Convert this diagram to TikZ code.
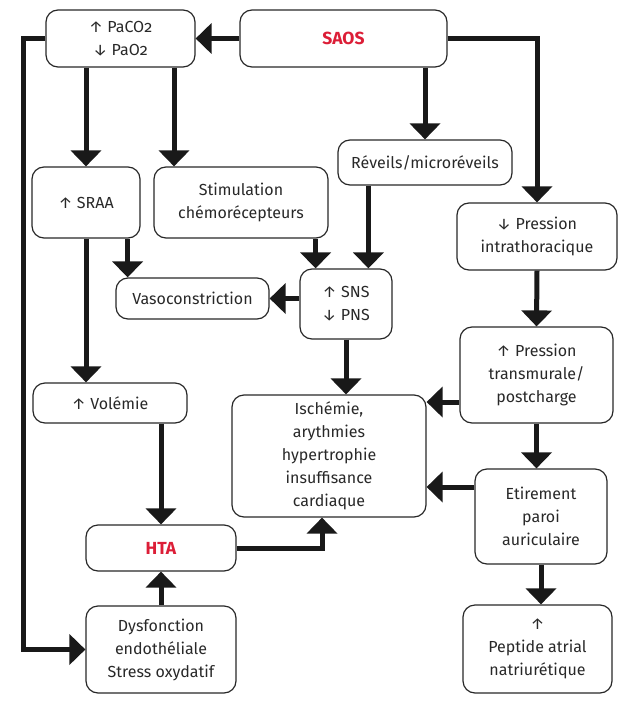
\documentclass[tikz,border=0pt]{standalone}
\usepackage{fontspec}
\setmainfont{Fira Sans}
\usetikzlibrary{arrows.meta, calc}
\definecolor{boxline}{RGB}{40,40,40}
\definecolor{txtclr}{RGB}{40,40,40}
\definecolor{accred}{RGB}{220,30,55}
\newcommand{\lowtwo}{{\addfontfeature{Numbers=OldStyle}2}}
\tikzset{
  % boxes
  box/.style    = {draw=boxline, line width=1.2pt, rounded corners=12pt, align=center,
                   inner sep=0pt, text=txtclr, font=\fontsize{16}{23}\selectfont},
  keybox/.style = {box, text=accred, font=\fontsize{17.5}{23}\selectfont\bfseries},
  % arrows
  flow/.style   = {line width=5pt, draw=black!90, -{Triangle[width=30pt,length=16pt]}},
}
\begin{document}
\begin{tikzpicture}[x=1pt, y=-1pt]
  \useasboundingbox (0,0) rectangle (622,704);
  % top row
  \node[box, minimum width=149pt, minimum height=57pt] (paco) at (120.5,38.5) {↑ PaCO\lowtwo\\↓ PaO\lowtwo};
  \node[keybox, minimum width=207pt, minimum height=57pt] (saos) at (343.5,38.5) {SAOS};
  % second row
  \node[box, minimum width=174pt, minimum height=45pt] (rev) at (425,162.5) {Réveils/microréveils};
  \node[box, minimum width=108pt, minimum height=71pt] (sraa) at (86,202.5) {↑ SRAA};
  \node[box, minimum width=174pt, minimum height=71pt] (stim) at (241,202.5) {Stimulation\\chémorécepteurs};
  \node[box, minimum width=160pt, minimum height=67pt] (pit) at (537,236.5) {↓ Pression\\intrathoracique};
  % third row
  \node[box, minimum width=153pt, minimum height=41pt] (vaso) at (192.5,298.5) {Vasoconstriction};
  \node[box, minimum width=92pt, minimum height=70pt] (sns) at (346,304) {↑ SNS\\↓ PNS};
  \node[box, minimum width=153pt, minimum height=96pt] (ptm) at (536.5,375) {↑ Pression\\transmurale/\\postcharge};
  \node[box, minimum width=154pt, minimum height=40pt] (vol) at (110,403) {↑ Volémie};
  \node[box, minimum width=194pt, minimum height=122pt] (isch) at (329,456) {Ischémie,\\arythmies\\hypertrophie\\insuffisance\\cardiaque};
  \node[box, minimum width=132pt, minimum height=95pt] (etir) at (541,516.5) {Etirement\\paroi\\auriculaire};
  % bottom row
  \node[keybox, minimum width=150pt, minimum height=46pt] (hta) at (161,548) {HTA};
  \node[box, minimum width=150pt, minimum height=87pt] (dysf) at (161,649.5) {Dysfonction\\endothéliale\\Stress oxydatif};
  \node[box, minimum width=149pt, minimum height=88pt] (pep) at (537.5,649) {↑\\Peptide atrial\\natriurétique};
  % arrows
  \coordinate (lft) at (23,38.5);
  \draw[flow] (saos.west) -- (paco.east);
  \draw[flow] (paco.west) -- (lft) |- (dysf.west);
  \draw[flow] (sraa.north |- paco.south) -- (sraa.north);
  \draw[flow] ([xshift=53.5pt]paco.south) -- ([xshift=53.5pt]paco.south |- stim.north);
  \draw[flow] (rev.north |- saos.south) -- (rev.north);
  \draw[flow] (saos.east) -| (pit.north);
  \draw[flow] ([xshift=-13pt]stim.south east) -- ([xshift=-13pt]stim.south east |- sns.north);
  \draw[flow] ([xshift=31pt]rev.south west) -- ([xshift=31pt]rev.south west |- sns.north);
  \draw[flow] ([xshift=-13pt]sraa.south east) -- ([xshift=-13pt]sraa.south east |- vaso.north);
  \draw[flow] (sns.west |- vaso.east) -- (vaso.east);
  \draw[flow] (sraa.south) -- (sraa.south |- vol.north);
  \draw[flow] (hta.north |- vol.south) -- (hta.north);
  \draw[flow] (dysf.north) -- (hta.south);
  \draw[flow] (hta.east) -| ([xshift=-7pt]isch.south);
  \draw[flow] (sns.south) -- (sns.south |- isch.north);
  \draw[flow] (pit.south) -- (ptm.north);
  \draw[flow] ([yshift=-27pt]ptm.west) -- ([yshift=-27pt]ptm.west -| isch.east);
  \draw[flow] (ptm.south) -- (ptm.south |- etir.north);
  \draw[flow] ([yshift=29.5pt]etir.west) -- ([yshift=29.5pt]etir.west -| isch.east);
  \draw[flow] (etir.south) -- (etir.south |- pep.north);
\end{tikzpicture}
\end{document}
